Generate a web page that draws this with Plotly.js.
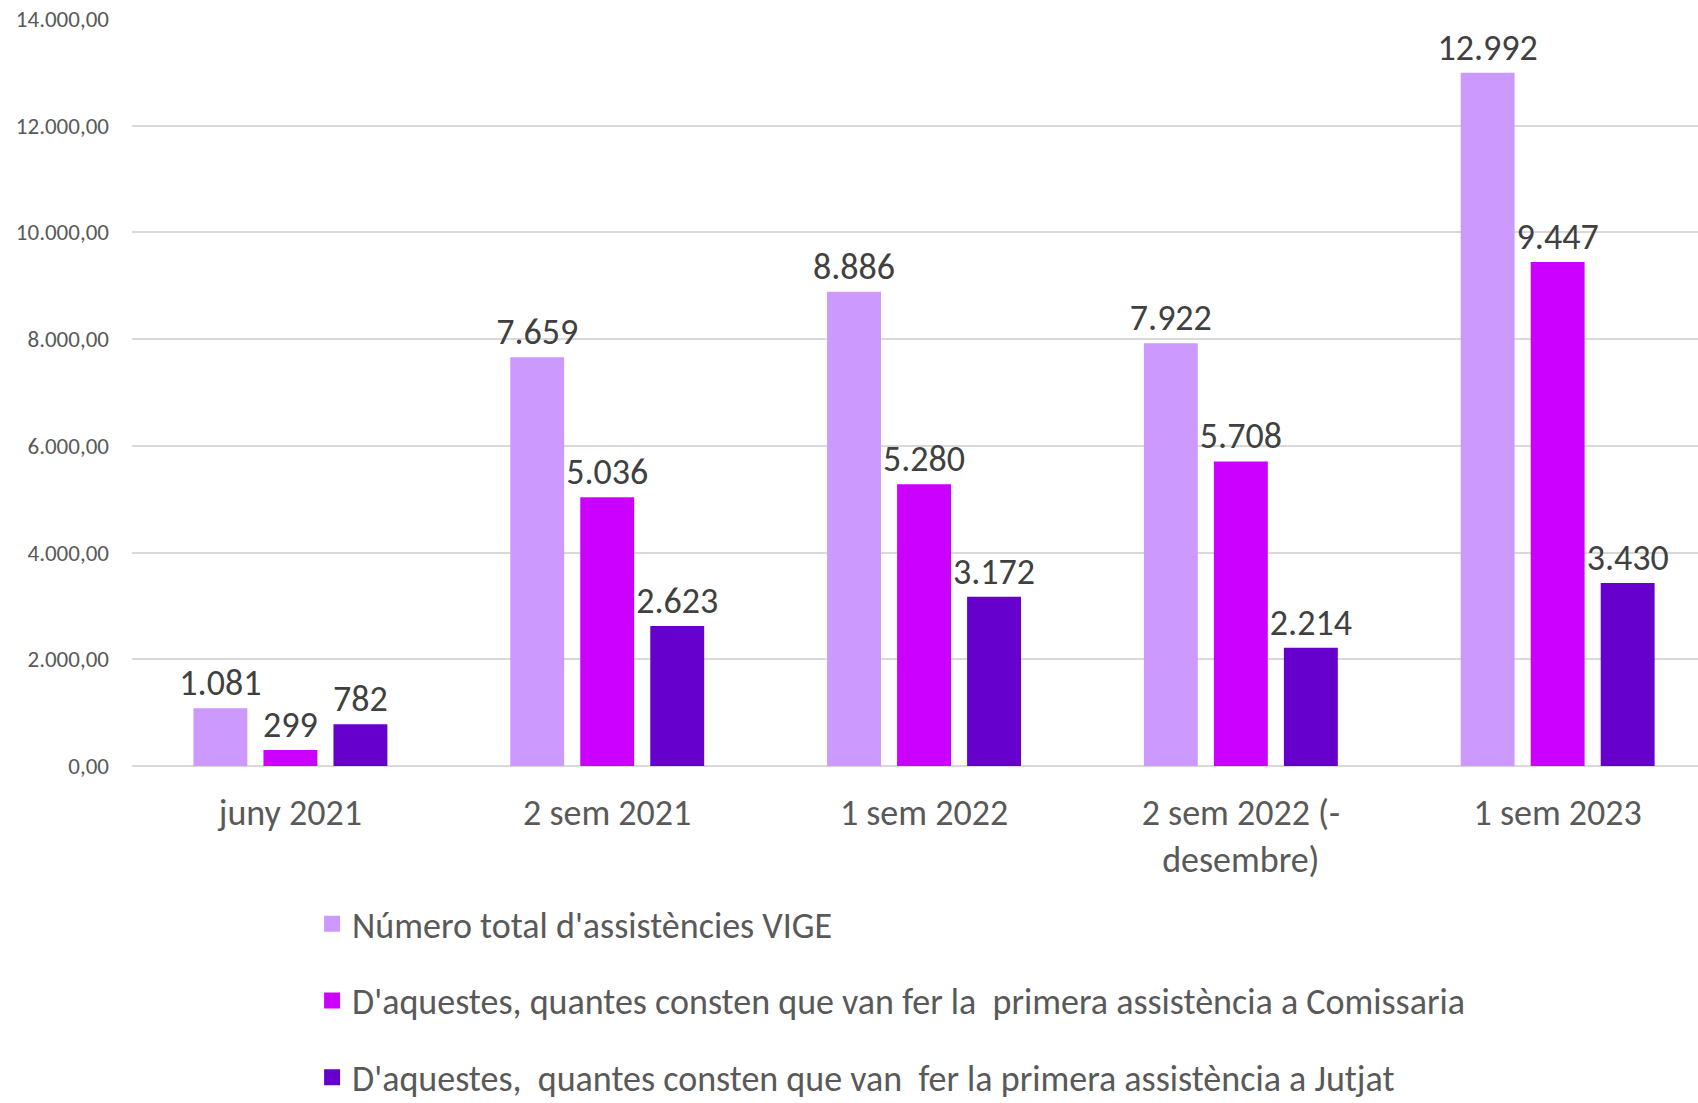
<!DOCTYPE html>
<html>
<head>
<meta charset="utf-8">
<script src="https://cdn.plot.ly/plotly-3.0.1.min.js"></script>
<style>html,body{margin:0;padding:0;background:#fff;}#chart{width:1698px;height:1103px;}</style>
</head>
<body>
<div id="chart"></div>
<script>
const categories = ["juny 2021", "2 sem 2021", "1 sem 2022", "2 sem 2022 (-<br>desembre)", "1 sem 2023"];
const seriesNames = [
  "Número total d'assistències VIGE",
  "D'aquestes, quantes consten que van fer la  primera assistència a Comissaria",
  "D'aquestes,  quantes consten que van  fer la primera assistència a Jutjat"
];
const totalVIGE = [1081, 7659, 8886, 7922, 12992];
const comissaria = [299, 5036, 5280, 5708, 9447];
const jutjat = [782, 2623, 3172, 2214, 3430];
const yTicks = [0, 2000, 4000, 6000, 8000, 10000, 12000, 14000];

const colors = ["#CC99FF", "#CC00FF", "#6600CC"];
const FONT = "Carlito, Calibri, Lato, sans-serif";
const values = [totalVIGE, comissaria, jutjat];

const traces = values.map((v, i) => ({
  type: "bar",
  name: seriesNames[i],
  x: categories,
  y: v,
  marker: {color: colors[i]},
  texttemplate: "%{y:,}",
  textposition: "outside",
  constraintext: "none",
  cliponaxis: false,
  textfont: {family: FONT, size: 36, color: "#404040"},
  showlegend: false,
  hoverinfo: "x+y"
}));

// legend entries (bigger square swatches than the bar default)
values.forEach((v, i) => {
  traces.push({
    type: "scatter",
    mode: "markers",
    name: seriesNames[i].replace(/ /g, "\u00a0"),
    x: [categories[0]],
    y: [null],
    marker: {symbol: "square", size: 20, color: colors[i]},
    legendgroup: "g" + i,
    showlegend: true,
    hoverinfo: "skip"
  });
});

const layout = {
  width: 1698,
  height: 1103,
  separators: ",.",
  paper_bgcolor: "#ffffff",
  plot_bgcolor: "#ffffff",
  margin: {l: 132, r: 0, t: 19, b: 337, autoexpand: false},
  barmode: "group",
  bargap: 0.337,
  bargroupgap: 0.23,
  showlegend: true,
  legend: {
    x: 0.115, y: -0.171, xanchor: "left", yanchor: "top",
    orientation: "v",
    font: {family: FONT, size: 36, color: "#595959"},
    tracegroupgap: 27,
    itemclick: false,
    itemwidth: 30,
    maxheight: 400
  },
  xaxis: {
    type: "category",
    range: [-0.5, 4.443],
    tickfont: {family: FONT, size: 36, color: "#595959"},
    showline: false,
    showgrid: false,
    ticks: "",
    ticklabelstandoff: 22,
    fixedrange: true
  },
  yaxis: {
    range: [0, 14000],
    tickvals: yTicks,
    tickformat: ",.2f",
    tickfont: {family: FONT, size: 23, color: "#595959"},
    gridcolor: "#D9D9D9",
    gridwidth: 1.5,
    zeroline: true,
    zerolinecolor: "#D9D9D9",
    zerolinewidth: 1.5,
    showline: false,
    ticks: "",
    ticklabelstandoff: 22,
    fixedrange: true
  }
};

Plotly.newPlot("chart", traces, layout, {displayModeBar: false});
</script>
</body>
</html>
